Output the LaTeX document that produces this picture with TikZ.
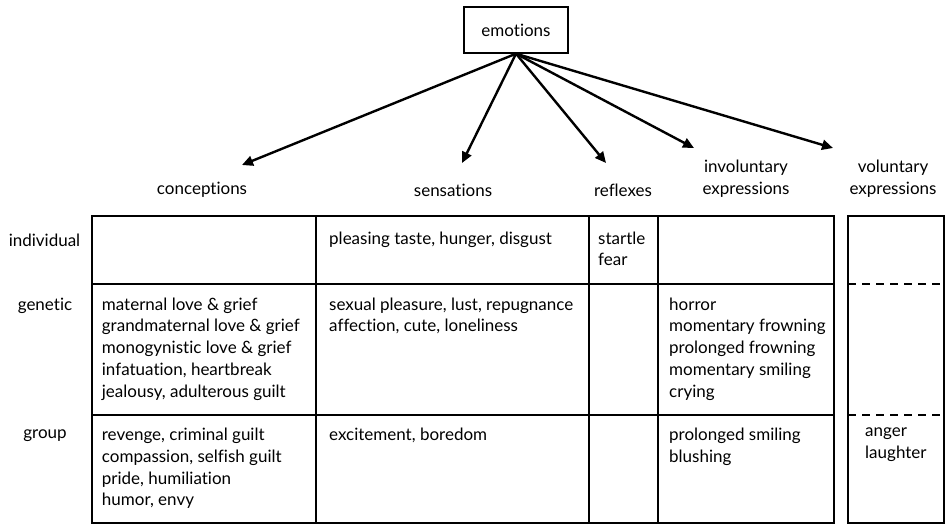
\documentclass[tikz,border=0pt]{standalone}
\usepackage{fontspec}
\setmainfont{Lato}[Ligatures=CommonOff]
\usetikzlibrary{arrows.meta}
\begin{document}
\begin{tikzpicture}[x=1pt,y=-1pt,
  every node/.style={font=\fontsize{17}{21.7}\selectfont},
  arr/.style={line width=2.4pt,-{Triangle[length=11pt,width=10pt]}},
  tbl/.style={line width=1.5pt},
  dsh/.style={line width=1.2pt,dash pattern=on 8pt off 6pt},
  hdr/.style={align=center,inner sep=0pt},
  cell/.style={anchor=north west,align=left,inner sep=0pt},
  rowlbl/.style={inner sep=0pt}]
\useasboundingbox (0,0) rectangle (947,525);
% top node
\node[draw,line width=1.4pt,minimum width=104pt,minimum height=46pt,inner sep=0pt] (emo) at (516,30) {emotions};
% arrow tips
\coordinate (t1) at (242,165);
\coordinate (t2) at (462,163);
\coordinate (t3) at (606,163);
\coordinate (t4) at (694,148);
\coordinate (t5) at (833,148);
\foreach \t in {t1,t2,t3,t4,t5} \draw[arr] (emo.south) -- (\t);
% column headers
\node[hdr] (hc) at (202,190) {conceptions};
\node[hdr] (hs) at (453,190) {sensations};
\node[hdr] (hr) at (623,190) {reflexes};
\node[hdr] (hi) at (746,179) {involuntary\\expressions};
\node[hdr] (hv) at (893,179) {voluntary\\expressions};
% row labels
\node[rowlbl] (ri) at (44.5,240) {individual};
\node[rowlbl] (rg) at (45,305.5) {genetic};
\node[rowlbl] (rp) at (45,436) {group};
% main table
\draw[tbl] (92,216) rectangle (834,523);
\draw[tbl] (316,216) -- (316,523);
\draw[tbl] (589,216) -- (589,523);
\draw[tbl] (658,216) -- (658,523);
\draw[tbl] (92,284) -- (834,284);
\draw[tbl] (92,415) -- (834,415);
% right table
\draw[tbl] (848,216) rectangle (944,523);
\draw[dsh] (848,284) -- (944,284);
\draw[dsh] (848,415) -- (944,415);
% cells: individual
\node[cell] (c12) at (329,231.5) {pleasing taste, hunger, disgust};
\node[cell] (c13) at (598,231.5) {startle\\fear};
% genetic
\node[cell] (c21) at (101.7,297.5) {maternal love \& grief\\grandmaternal love \& grief\\monogynistic love \& grief\\infatuation, heartbreak\\jealousy, adulterous guilt};
\node[cell] (c22) at (329,297.5) {sexual pleasure, lust, repugnance\\affection, cute, loneliness};
\node[cell] (c24) at (669,297.5) {horror\\momentary frowning\\prolonged frowning\\momentary smiling\\crying};
% group
\node[cell] (c31) at (101.7,428) {revenge, criminal guilt\\compassion, selfish guilt\\pride, humiliation\\humor, envy};
\node[cell] (c32) at (329,428) {excitement, boredom};
\node[cell] (c34) at (669,428) {prolonged smiling\\blushing};
\node[cell] (c35) at (865,428) {anger\\laughter};
\end{tikzpicture}
\end{document}
